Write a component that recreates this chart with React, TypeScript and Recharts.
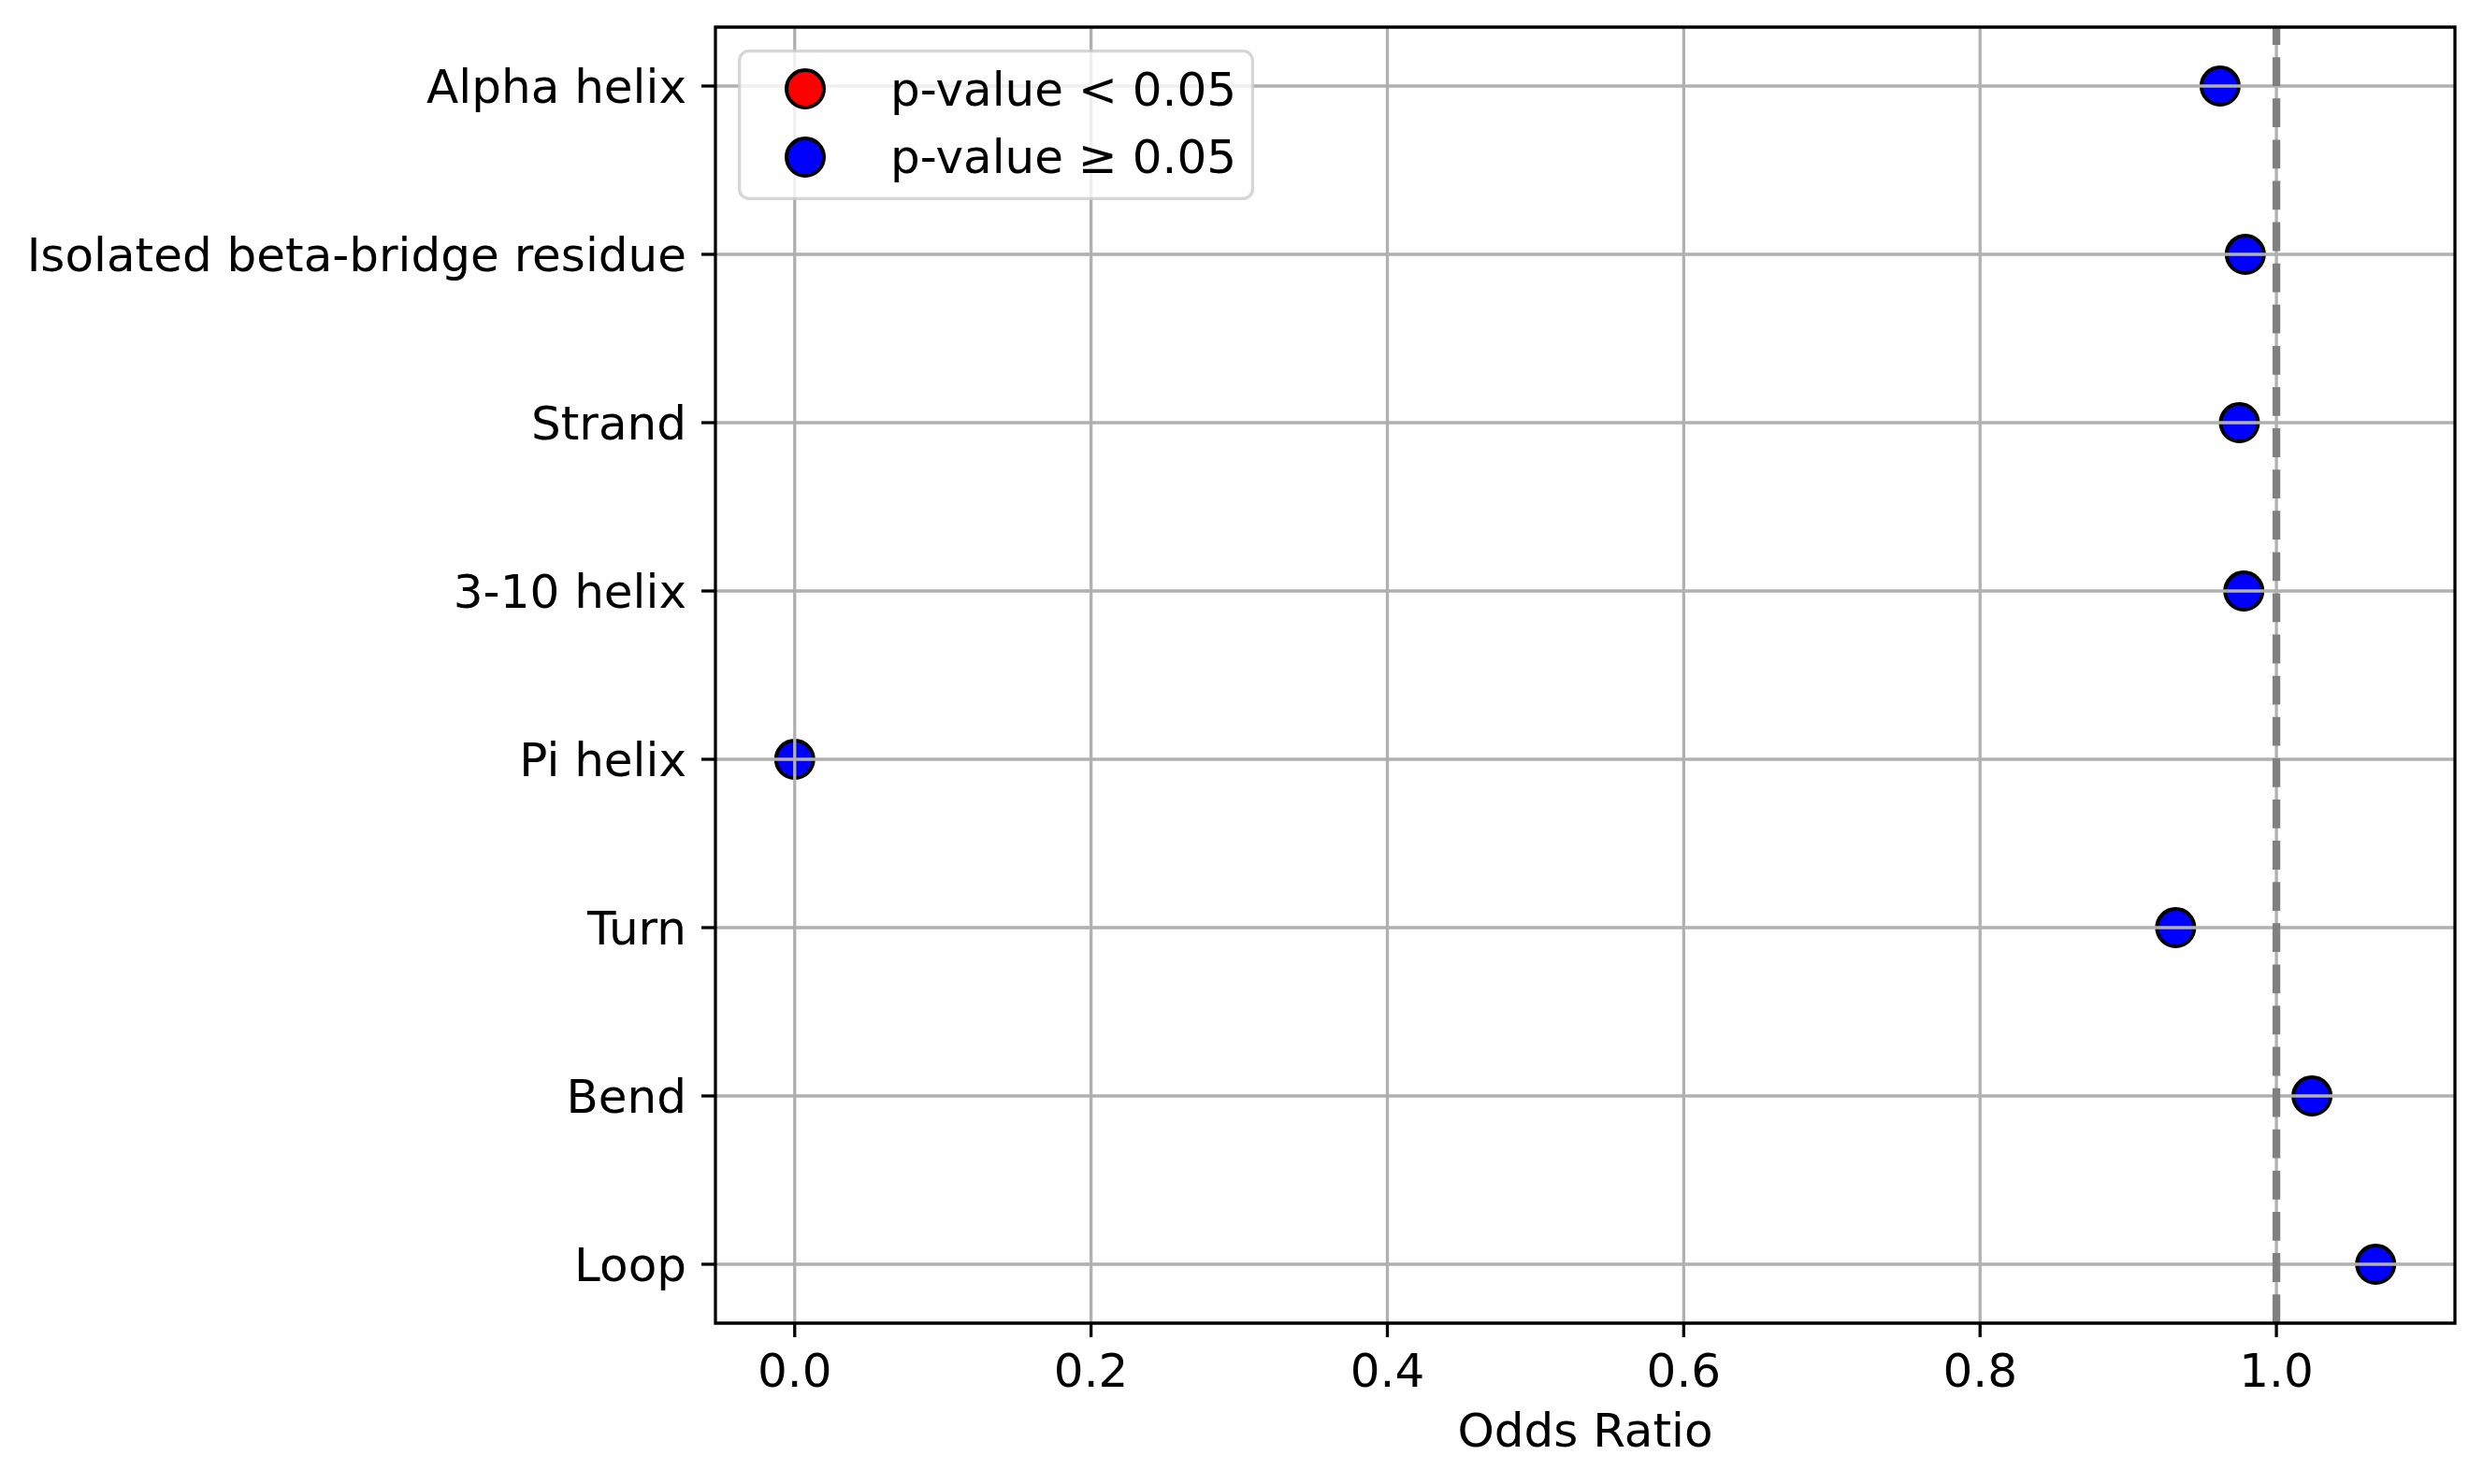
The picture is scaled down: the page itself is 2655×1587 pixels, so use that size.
import React from 'react';
import {
  ScatterChart,
  Scatter,
  XAxis,
  YAxis,
  ReferenceLine,
  ReferenceArea,
} from 'recharts';

const categories = [
  'Alpha helix',
  'Isolated beta-bridge residue',
  'Strand',
  '3-10 helix',
  'Pi helix',
  'Turn',
  'Bend',
  'Loop',
];
const oddsRatios = [0.962, 0.979, 0.975, 0.978, 0.0, 0.932, 1.024, 1.067];
const significant = [false, false, false, false, false, false, false, false];
const xTicks = [0, 0.2, 0.4, 0.6, 0.8, 1.0];
const legendLabels = ['p-value < 0.05', 'p-value \u2265 0.05'];

const FONT = '"DejaVu Sans", sans-serif';

const rows = categories.map((name, i) => ({ name, y: i, or: oddsRatios[i], sig: significant[i] }));
const sigRows = rows.filter((r) => r.sig);
const nonSigRows = rows.filter((r) => !r.sig);
const yTicks = categories.map((_, i) => i);

const makeDot = (fill: string) => (props: any) => {
  const { cx, cy } = props;
  if (cx == null || cy == null) return <g />;
  return <circle cx={cx} cy={cy} r={20} fill={fill} stroke="#000" strokeWidth={4} />;
};

const tickStyle = { fontSize: 50, fill: '#000', fontFamily: FONT };
const GRID = '#b0b0b0';

export default function App() {
  const zi: any = (z: number) => ({ zIndex: z });
  return (
    <div style={{ position: 'relative', width: 2655, height: 1587, background: '#fff' }}>
      <style>{`body{margin:0;}`}</style>
      <ScatterChart
        width={2655}
        height={1587}
        margin={{ top: 29, right: 30, left: 0, bottom: 0 }}
        style={{ fontFamily: FONT }}
      >
        <XAxis
          dataKey="or"
          type="number"
          domain={[-0.0535, 1.1205]}
          allowDataOverflow
          ticks={xTicks}
          interval={0}
          tickFormatter={(v: number) => v.toFixed(1)}
          tick={tickStyle}
          tickLine={{ stroke: '#000', strokeWidth: 3.3 }}
          axisLine={false}
          tickSize={15}
          tickMargin={17}
          height={172}
          label={{
            value: 'Odds Ratio',
            position: 'insideBottom',
            offset: 40,
            style: { fontSize: 50, fill: '#000', fontFamily: FONT },
          }}
        />
        <YAxis
          dataKey="y"
          type="number"
          domain={[-0.35, 7.35]}
          allowDataOverflow
          reversed
          ticks={yTicks}
          interval={0}
          tickFormatter={(v: number) => categories[v] ?? ''}
          tick={tickStyle}
          tickLine={{ stroke: '#000', strokeWidth: 3.3 }}
          axisLine={false}
          tickSize={15}
          tickMargin={16}
          width={765}
        />
        <Scatter
          name={legendLabels[1]}
          data={nonSigRows}
          fill="#0000ff"
          shape={makeDot('#0000ff')}
          isAnimationActive={false}
        />
        <Scatter
          name={legendLabels[0]}
          data={sigRows}
          fill="#ff0000"
          shape={makeDot('#ff0000')}
          isAnimationActive={false}
        />
        {yTicks.map((t) => (
          <ReferenceLine key={`gy${t}`} y={t} stroke={GRID} strokeWidth={3.3} {...zi(700)} />
        ))}
        {xTicks.map((t) => (
          <ReferenceLine key={`gx${t}`} x={t} stroke={GRID} strokeWidth={3.3} {...zi(700)} />
        ))}
        <ReferenceLine
          x={1}
          stroke="#808080"
          strokeWidth={8.3}
          strokeDasharray="30.8 13.3"
          {...zi(750)}
        />
        <ReferenceArea
          x1={-0.0535}
          x2={1.1205}
          y1={-0.35}
          y2={7.35}
          fill="none"
          fillOpacity={0}
          stroke="#000"
          strokeWidth={3.3}
          {...zi(800)}
        />
      </ScatterChart>
      <div style={{ position: 'absolute', left: 789, top: 53, width: 552, height: 161 }}>
        <svg width={552} height={161} style={{ display: 'block' }}>
          <rect
            x={1.65}
            y={1.65}
            width={552 - 3.3}
            height={161 - 3.3}
            rx={10}
            fill="#fff"
            fillOpacity={0.8}
            stroke="#cccccc"
            strokeOpacity={0.8}
            strokeWidth={3.3}
          />
          {legendLabels.map((label, i) => (
            <g key={label}>
              <circle
                cx={72}
                cy={42 + i * 73}
                r={20}
                fill={i === 0 ? '#ff0000' : '#0000ff'}
                stroke="#000"
                strokeWidth={4}
              />
              <text x={163} y={60 + i * 72} fontSize={50} fontFamily={FONT} fill="#000">
                {label}
              </text>
            </g>
          ))}
        </svg>
      </div>
    </div>
  );
}
